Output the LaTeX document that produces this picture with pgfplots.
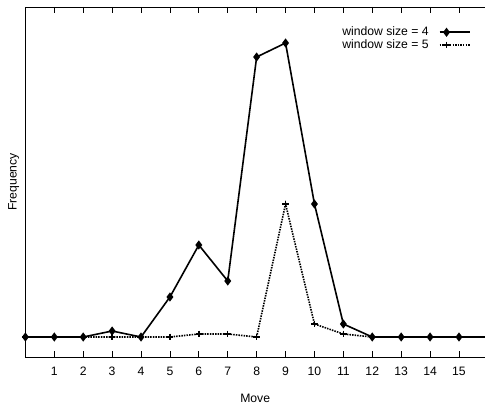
\documentclass[border=0pt]{standalone}
\usepackage{pgfplots}
\pgfplotsset{compat=1.18}
\usepackage{fontspec}
\setmainfont{Liberation Sans}

\pgfplotstableread{
x   w4   w5
0   0    0
1   0    0
2   0    0
3   6    0
4   0    0
5   40   0
6   92   3
7   56   3
8   280  0
9   294  133
10  133  13
11  13   3
12  0    0
13  0    0
14  0    0
15  0    0
16  0    0
}\freq

\begin{document}
\fontsize{12.2}{14}\selectfont
\begin{tikzpicture}
\begin{axis}[
    scale only axis,
    width=459.6pt, height=350pt,
    xmin=0, xmax=15.9,
    ymin=-20, ymax=330,
    axis x line=box,
    axis y line=left,
    axis line style={-, line width=0.9pt},
    xtick={1,...,15},
    ytick=\empty,
    tick align=inside,
    major tick length=6pt,
    xtick style={line width=0.7pt, black},
    xticklabel style={yshift=-6pt},
    /pgf/number format/assume math mode=true,
    xlabel={Move},
    ylabel={Frequency},
    xlabel style={yshift=-10pt},
    ylabel style={yshift=2pt},
    legend plot pos=right,
    legend style={draw=none, fill=none, at={(0.975,0.955)}, anchor=north east,
        row sep=-2pt, column sep=8pt, font=\fontsize{12.2}{14}\selectfont},
    legend cell align=right,
    legend image code/.code={
        \draw[#1, mark=none] (0pt,0pt) -- (30pt,0pt);
        \draw[#1, only marks] plot coordinates {(7pt,0pt)};
    },
    clip=true,
]
\coordinate (sw) at (rel axis cs:0,0);
\coordinate (ne) at (rel axis cs:1,1);
\addplot[black, line width=1.6pt, mark=diamond*, mark size=3.3pt,
    mark options={solid}] table[x=x, y=w4] {\freq};
\addlegendentry{window size = 4}
\addplot[black, line width=1.6pt, dash pattern=on 1.5pt off 1.1pt,
    mark=+, mark size=3.3pt, mark options={solid, line width=1.4pt}]
    table[x=x, y=w5] {\freq};
\addlegendentry{window size = 5}
\end{axis}
\pgfresetboundingbox
\path ([xshift=-25.4pt, yshift=-48pt]sw) rectangle ([yshift=7pt]ne);
\end{tikzpicture}
\end{document}
